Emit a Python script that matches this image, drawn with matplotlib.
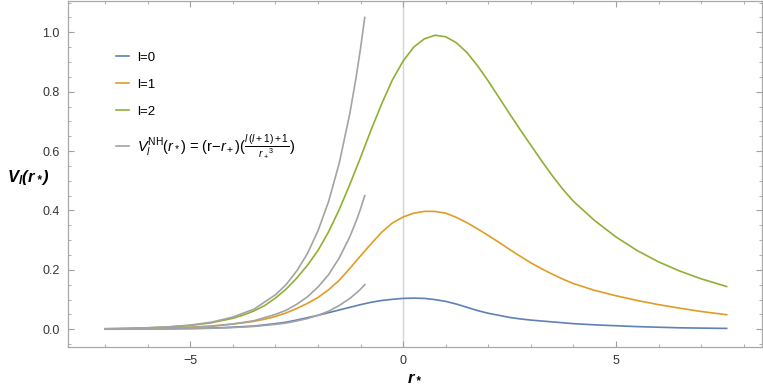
import matplotlib.pyplot as plt
from matplotlib.ticker import MultipleLocator, FixedLocator

# valores
r_cor = [-7.0, -6.5, -6.0, -5.5, -5.0, -4.5, -4.0, -3.75, -3.5, -3.25, -3.0,
         -2.75, -2.5, -2.25, -2.0, -1.75, -1.5, -1.25, -1.0, -0.75, -0.5, -0.25,
         0.0, 0.25, 0.5, 0.75, 1.0, 1.25, 1.5, 1.75, 2.0, 2.25, 2.5, 2.75, 3.0,
         3.25, 3.5, 3.75, 4.0, 4.5, 5.0, 5.5, 6.0, 6.5, 7.0, 7.6]
v_l0 = [0.0005, 0.0008, 0.001, 0.002, 0.003, 0.004, 0.007, 0.009, 0.011, 0.015,
        0.019, 0.024, 0.031, 0.039, 0.047, 0.056, 0.065, 0.074, 0.083, 0.091,
        0.097, 0.101, 0.104, 0.105, 0.104, 0.100, 0.094, 0.085, 0.074, 0.063,
        0.054, 0.047, 0.040, 0.035, 0.031, 0.028, 0.025, 0.022, 0.019, 0.015,
        0.012, 0.009, 0.007, 0.005, 0.004, 0.003]
v_l1 = [0.001, 0.002, 0.003, 0.005, 0.007, 0.011, 0.018, 0.022, 0.027, 0.034,
        0.043, 0.055, 0.070, 0.087, 0.107, 0.133, 0.165, 0.205, 0.247, 0.288,
        0.327, 0.358, 0.378, 0.391, 0.397, 0.397, 0.391, 0.377, 0.359, 0.338,
        0.316, 0.293, 0.269, 0.246, 0.224, 0.204, 0.186, 0.169, 0.154, 0.131,
        0.113, 0.097, 0.083, 0.071, 0.060, 0.049]
v_l2 = [0.002, 0.003, 0.005, 0.008, 0.013, 0.022, 0.037, 0.048, 0.062, 0.080,
        0.105, 0.135, 0.172, 0.215, 0.265, 0.328, 0.403, 0.488, 0.578, 0.672,
        0.760, 0.840, 0.903, 0.950, 0.978, 0.990, 0.985, 0.965, 0.932, 0.887,
        0.836, 0.781, 0.726, 0.672, 0.620, 0.568, 0.518, 0.472, 0.431, 0.366,
        0.311, 0.265, 0.227, 0.196, 0.170, 0.144]

# aproximação perto do horizonte (curvas cinzas)
r_nh = [-7.0, -6.5, -6.0, -5.5, -5.0, -4.5, -4.0, -3.5, -3.0, -2.75, -2.5,
        -2.25, -2.0, -1.75, -1.5, -1.25, -1.1, -1.0, -0.9]
nh_l0 = [0.0002, 0.0004, 0.0007, 0.0012, 0.002, 0.0034, 0.0059, 0.0097, 0.0166,
         0.021, 0.028, 0.036, 0.047, 0.061, 0.080, 0.104, 0.122, 0.135, 0.150]
nh_l1 = [0.0007, 0.0012, 0.0021, 0.0036, 0.006, 0.010, 0.0176, 0.029, 0.050,
         0.064, 0.084, 0.109, 0.142, 0.184, 0.240, 0.312, 0.365, 0.405, 0.450]
nh_l2 = [0.0017, 0.0029, 0.005, 0.0084, 0.014, 0.024, 0.041, 0.068, 0.116,
         0.150, 0.196, 0.254, 0.331, 0.430, 0.559, 0.727, 0.851, 0.945, 1.050]

rotulos = ["l=0", "l=1", "l=2"]
cores = ["#5e81b5", "#e19c24", "#8fb032"]
cinza = "#a3a3a3"

plt.rcParams["font.family"] = "Liberation Sans"
plt.rcParams["mathtext.fontset"] = "custom"
plt.rcParams["mathtext.rm"] = "Liberation Sans"
plt.rcParams["mathtext.it"] = "Liberation Sans:italic"
plt.rcParams["mathtext.bf"] = "Liberation Sans:bold"
plt.rcParams["mathtext.bfit"] = "Liberation Sans:bold:italic"

fig = plt.figure(figsize=(7.63, 3.91), dpi=100)
ax = fig.add_axes([68 / 763, 1 - 347 / 391, 694 / 763, 346.5 / 391])

ax.axvline(0, color="#d4d4d4", lw=1.0, zorder=0)

for v, cor, rot in zip([v_l0, v_l1, v_l2], cores, rotulos):
    ax.plot(r_cor, v, color=cor, lw=1.2, label=rot)

for i, v in enumerate([nh_l0, nh_l1, nh_l2]):
    lab = (r"$V_l^{\mathrm{NH}}(r_*)$ = (r$-r_+$)($\frac{l\,(l+1)+1}{r_+{}^3}$)"
           if i == 0 else None)
    ax.plot(r_nh, v, color=cinza, lw=1.2, label=lab)

ax.set_xlim(-7.87, 8.43)
ax.set_ylim(-0.0596, 1.107)

ax.xaxis.set_major_locator(FixedLocator([-5, 0, 5]))
ax.xaxis.set_minor_locator(MultipleLocator(1))
ax.yaxis.set_major_locator(MultipleLocator(0.2))
ax.yaxis.set_minor_locator(MultipleLocator(0.05))
ax.yaxis.set_major_formatter(plt.FuncFormatter(lambda y, _: f"{y:.1f}"))
ax.xaxis.set_major_formatter(plt.FuncFormatter(lambda x, _: f"{x:g}".replace("-", "\u2212")))

ax.tick_params(which="both", direction="in", top=True, right=True,
               color="#a0a0a0", labelsize=9, labelcolor="#333333")
ax.tick_params(which="major", length=4.5, width=0.8, pad=6)
ax.tick_params(which="minor", length=2.5, width=0.6)
for s in ax.spines.values():
    s.set_color("#a8a8a8")
    s.set_linewidth(0.9)

ax.set_xlabel(r"$\mathbfit{r_*}$", fontsize=12, labelpad=1)
ax.set_ylabel(r"$\mathbfit{V_l(r_*)}$", fontsize=12, rotation=0, labelpad=0)
ax.yaxis.set_label_coords(-0.057, 0.462)

leg = ax.legend(loc="upper left", bbox_to_anchor=(104 / 763, 1 - 40 / 391),
                bbox_transform=fig.transFigure, frameon=False, fontsize=9.5,
                handlelength=1.0, handletextpad=0.6, labelspacing=1.1)
leg.get_texts()[3].set_fontsize(10.5)

fig.savefig("out.png", dpi=100)
